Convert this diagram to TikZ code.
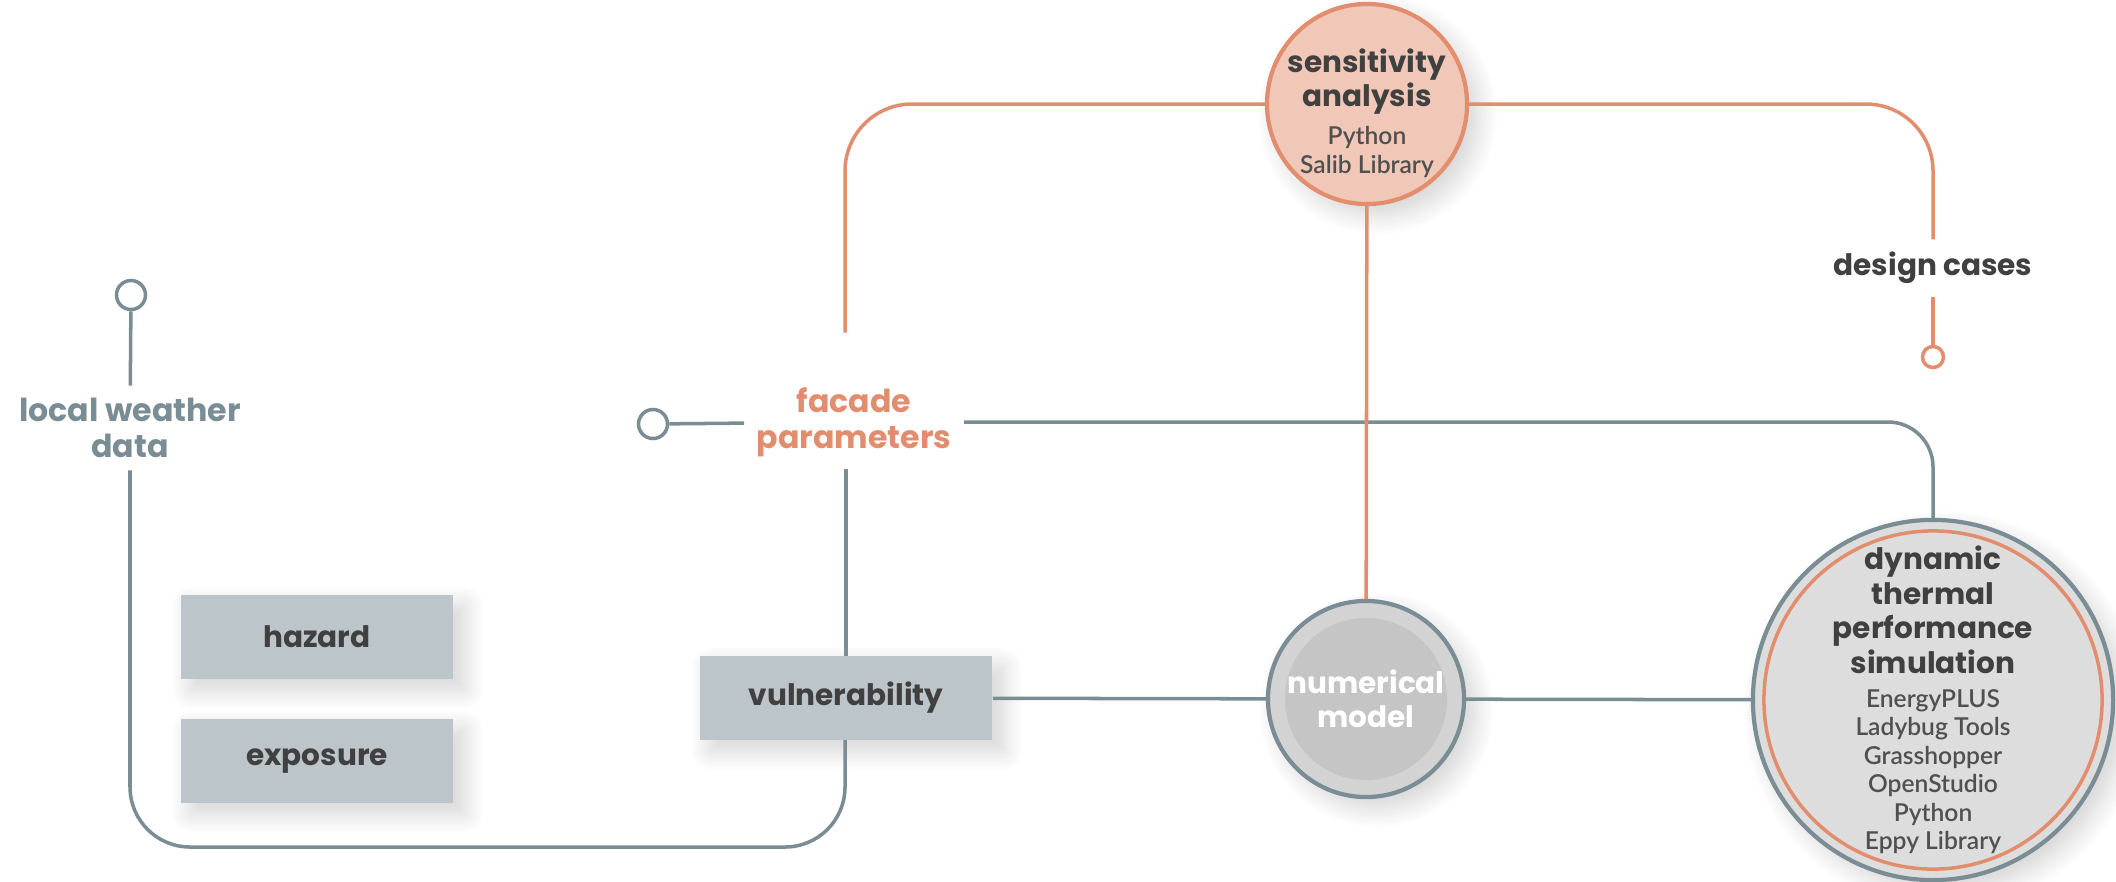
\documentclass[tikz,border=0pt]{standalone}
\usepackage{fontspec}
\setsansfont{Poppins}
\newfontfamily\lightfont{Lato}[UprightFont=* Light]
\usetikzlibrary{positioning,shadows.blur}

\definecolor{linegray}{RGB}{122,140,148}
\definecolor{sensorange}{RGB}{226,142,110}
\definecolor{sensfill}{RGB}{241,200,184}
\definecolor{boxgray}{RGB}{188,197,202}
\definecolor{darktext}{RGB}{64,64,64}
\definecolor{tooltext}{RGB}{80,80,80}
\definecolor{numouter}{RGB}{211,211,211}
\definecolor{numinner}{RGB}{197,197,197}
\definecolor{dynfill}{RGB}{221,221,221}

\newcommand{\tools}[1]{{\lightfont\fontsize{7}{8}\selectfont\color{tooltext}#1}}

\tikzset{
  link/.style={draw=linegray, line width=1pt},
  sensline/.style={draw=sensorange, line width=1pt},
  term/.style={font=\sffamily\bfseries\fontsize{8.4}{9.8}\selectfont, text=darktext, align=center, inner sep=0.12cm},
  bigterm/.style={term, font=\sffamily\bfseries\fontsize{9}{10.2}\selectfont},
  softshadow/.style={blur shadow={shadow xshift=3pt, shadow yshift=-3pt, shadow blur radius=6pt, shadow blur steps=10, shadow opacity=18}},
  riskbox/.style={term, rectangle, fill=boxgray, minimum width=2.72cm, minimum height=0.83cm, softshadow},
  ball/.style={term, circle, line width=1.2pt, inner sep=0pt, softshadow},
  dot/.style={circle, draw=linegray, line width=1pt, fill=white, minimum size=0.29cm, inner sep=0pt},
}

\begin{document}
\begin{tikzpicture}[x=0.01cm, y=-0.01cm]
  \useasboundingbox (0,0) rectangle (2116,881);

  % Nodes
  \node[riskbox] (hazard) at (317,637) {hazard};
  \node[riskbox] (exposure) at (317,761) {exposure};
  \node[riskbox, minimum width=2.92cm] (vuln) at (846,698) {vulnerability};
  \node[bigterm, text=linegray] (weather) at (130,428) {local weather\\data};
  \node[dot] (weatherdot) at (131,295) {};
  \node[bigterm, text=sensorange] (facade) at (854,422) {facade\\parameters};
  \node[dot] (facadedot) at (653,424) {};
  \node[ball, draw=sensorange, fill=sensfill, minimum size=2cm] (sens) at (1367,104) {};
  \node[term] (senstext) at (1367,113) {sensitivity\\analysis\\[1pt]\tools{Python}\\[-1.7pt]\tools{Salib Library}};
  \node[term] (design) at (1933,268) {design cases};
  \node[dot, draw=sensorange, minimum size=0.21cm] (designdot) at (1933,357) {};
  \node[ball, text=white, draw=linegray, fill=numouter, minimum size=1.96cm,
    path picture={\fill[numinner] (path picture bounding box.center) circle[radius=0.81cm];}]
    (num) at (1366,699) {numerical\\model};
  \node[ball, draw=linegray, fill=dynfill, minimum size=3.6cm,
    path picture={\draw[sensorange, line width=1pt] (path picture bounding box.center) circle[radius=1.69cm];}]
    (dyn) at (1933,700) {};
  \node[term] (dyntext) at (1933,700) {dynamic\\thermal\\performance\\simulation\\\tools{EnergyPLUS}\\[-1.7pt]\tools{Ladybug Tools}\\[-1.7pt]\tools{Grasshopper}\\[-1.7pt]\tools{OpenStudio}\\[-1.7pt]\tools{Python}\\[-1.7pt]\tools{Eppy Library}};

  % Flow
  \coordinate (loop) at (845,847);
  \draw[link] (weatherdot) -- (weather);
  \draw[link, rounded corners=0.6cm] (weather) |- (loop) -- (vuln.south -| loop);
  \draw[link] (facadedot) -- (facade);
  \draw[link] (facade.south -| vuln) -- (vuln);
  \draw[link, rounded corners=0.45cm] (facade) -| (dyn);
  \draw[link] (vuln) -- (num);
  \draw[link] (num) -- (dyn);

  \draw[sensline, rounded corners=0.67cm] (sens) -| ([xshift=-0.09cm, yshift=0.42cm]facade.north);
  \draw[sensline, rounded corners=0.67cm] (sens) -| (design);
  \draw[sensline] (design) -- (designdot);
  \draw[sensline] (sens) -- (num);
\end{tikzpicture}
\end{document}
